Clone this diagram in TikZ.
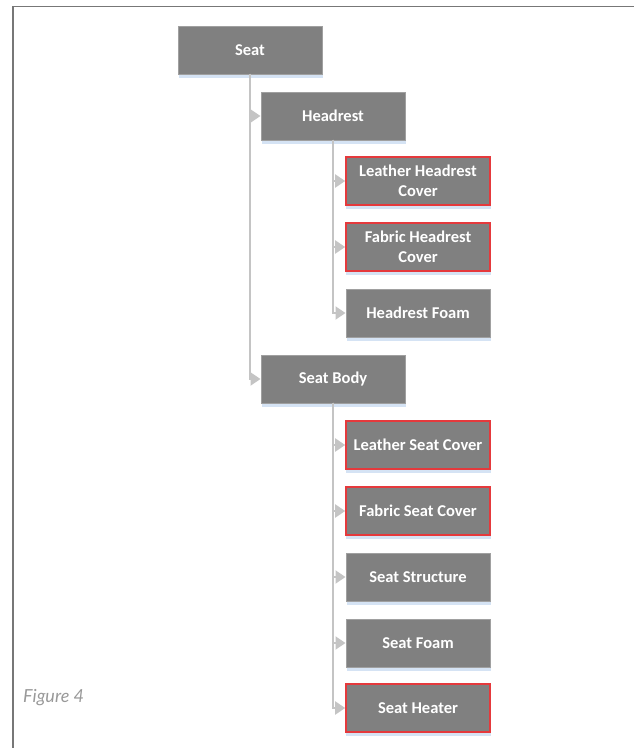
\documentclass[tikz,border=0pt]{standalone}
\usepackage{fontspec}
\setmainfont{Carlito}
\newfontfamily\captionfont{Lato}
\usetikzlibrary{arrows.meta}
\definecolor{boxgray}{HTML}{808080}
\definecolor{boxedge}{HTML}{A0A0A0}
\definecolor{flagred}{HTML}{E5393C}
\definecolor{linkgray}{HTML}{C4C4C4}
\definecolor{shadowblue}{HTML}{D5E3F4}
\definecolor{framegray}{HTML}{777777}
\definecolor{captiongray}{HTML}{999999}
\tikzset{
  part/.style={rectangle, fill=boxgray, draw=boxedge, line width=1pt,
    minimum width=144pt, minimum height=48pt, inner sep=2pt,
    text=white, align=center, font=\fontsize{16.5}{20.5}\selectfont\bfseries},
  flagged/.style={part, draw=flagred, line width=1.6pt},
  link/.style={draw=linkgray, line width=2pt,
    -{Triangle[length=10pt,width=13pt,fill=linkgray]}},
}
\newcommand{\shadowbox}[1]{%
  \fill[shadowblue] ([xshift=1pt]#1.south west) rectangle ([yshift=-3pt]#1.south east);}
\begin{document}
\begin{tikzpicture}[x=1pt,y=-1pt]
\useasboundingbox (0,0) rectangle (634,748);
% frame
\draw[framegray, line width=1.6pt] (13,748) -- (13,6.5) -- (634,6.5);
% parts
\node[part]    (seat)  at (250,50)  {Seat};
\node[part]    (head)  at (333,116) {Headrest};
\node[flagged] (lhc)   at (418,181) {Leather Headrest\\Cover};
\node[flagged] (fhc)   at (418,247) {Fabric Headrest\\Cover};
\node[part]    (hf)    at (418,313) {Headrest Foam};
\node[part]    (body)  at (333,379) {Seat Body};
\node[flagged] (lsc)   at (418,445) {Leather Seat Cover};
\node[flagged] (fsc)   at (418,511) {Fabric Seat Cover};
\node[part]    (ss)    at (418,577) {Seat Structure};
\node[part]    (sf)    at (418,643) {Seat Foam};
\node[flagged] (sh)    at (418,708) {Seat Heater};
% soft shadows under the boxes
\foreach \n in {seat,head,lhc,fhc,hf,body,lsc,fsc,ss,sf,sh}{\shadowbox{\n}}
% connectors
\foreach \p/\c in {seat/head, seat/body, head/lhc, head/fhc, head/hf,
                   body/lsc, body/fsc, body/ss, body/sf, body/sh}
  \draw[link] ([yshift=1pt]\p.south) |- (\c.west);
% caption
\node[anchor=west, inner sep=0pt, text=captiongray,
      font=\captionfont\itshape\fontsize{18}{21}\selectfont]
  (cap) at (23,698) {Figure 4};
\end{tikzpicture}
\end{document}
